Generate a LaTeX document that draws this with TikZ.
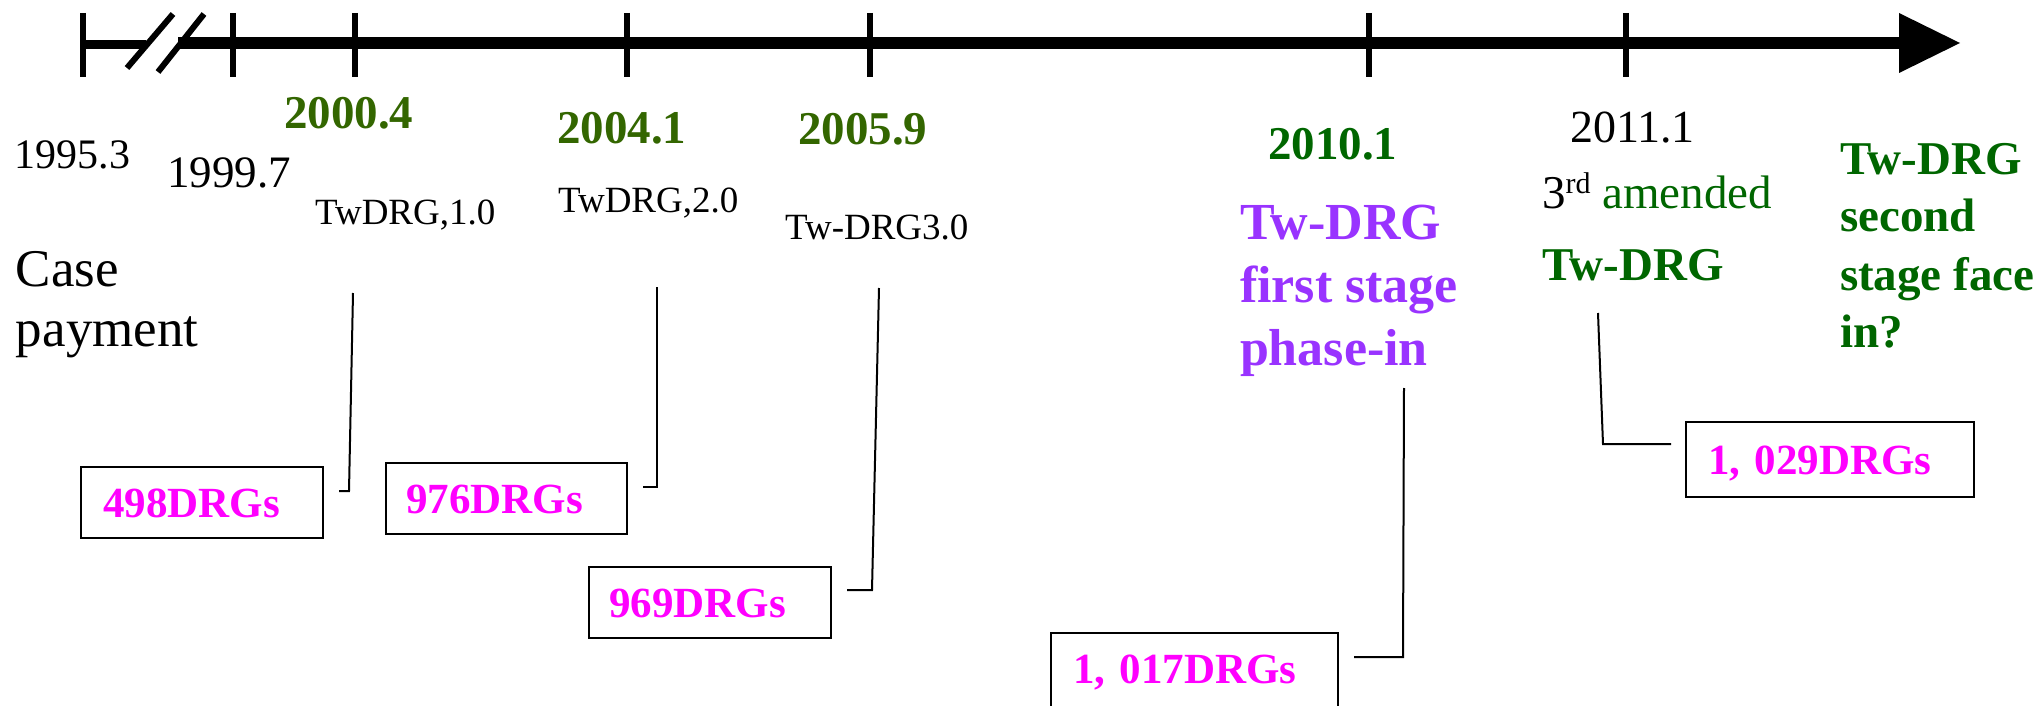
\documentclass[tikz,border=0pt]{standalone}
\usepackage{fontspec}
\setmainfont{Liberation Serif}
\usetikzlibrary{calc}
\definecolor{yrgreen}{HTML}{336600}
\definecolor{dkgreen}{HTML}{006600}
\definecolor{purp}{HTML}{9933FF}
\definecolor{mag}{HTML}{FF00FF}
\newcommand\fsz[1]{\fontsize{#1}{#1}\selectfont}
\tikzset{
  lbl/.style={anchor=base west, inner sep=0pt, outer sep=0pt},
  year/.style={lbl, font=\fsz{23.5pt}\bfseries, text=yrgreen},
  ver/.style={lbl, font=\fsz{18.5pt}},
  purptxt/.style={lbl, font=\fsz{26pt}\bfseries, text=purp},
  greentxt/.style={lbl, font=\fsz{23.5pt}\bfseries, text=dkgreen},
  dbox/.style={draw, line width=1.2pt, anchor=north west, outer sep=0pt,
    inner ysep=0pt, align=left, text height=15pt, text depth=0pt,
    font=\fsz{21.5pt}\bfseries, text=mag},
  conn/.style={line width=1pt},
  tick/.style={line width=3pt},
}
\begin{document}
\begin{tikzpicture}[x=0.5pt,y=-0.5pt]
\useasboundingbox (0,0) rectangle (2042,706);
\clip (0,0) rectangle (2042,706);

% axis
\draw[line width=4.75pt] (83,44.5) -- (146,44.5);
\draw[tick] (83,13) -- (83,77);
\draw[tick] (127,68) -- (173,14);
\draw[tick] (158,72) -- (204,14);
\draw[line width=6pt] (178,43) -- (1902,43);
\fill (1899,13) -- (1960,43) -- (1899,73) -- cycle;
\foreach \x in {233,355,627,870,1369,1626}
  \draw[tick] (\x,13) -- (\x,77);

% dates
\node[lbl, font=\fsz{21pt}] (d1) at (15,169) {1995.3};
\node[lbl, font=\fsz{22.5pt}] (d2) at (167,188) {1999.7};
\node[year] (d3) at (284,129) {2000.4};
\node[year] (d4) at (557,144) {2004.1};
\node[year] (d5) at (798,145) {2005.9};
\node[year, text=dkgreen] (d6) at (1268,160) {2010.1};
\node[lbl, font=\fsz{23pt}] (d7) at (1570,143) {2011.1};

% versions
\node[ver] (v1) at (315,225) {TwDRG,1.0};
\node[ver] (v2) at (558,213) {TwDRG,2.0};
\node[ver] (v3) at (785,240) {Tw-DRG3.0};

% case payment
\node[lbl, font=\fsz{26.5pt}] (cp1) at (16,286) {Case};
\node[lbl, font=\fsz{26.5pt}] (cp2) at (16,346) {payment};

% first stage
\node[purptxt] (p1) at (1240,240) {Tw-DRG};
\node[purptxt] (p2) at (1240,302.5) {first stage};
\node[purptxt] (p3) at (1240,365) {phase-in};

% 3rd amended
\node[lbl, font=\fsz{23.5pt}] (a1) at (1542,208)
  {3\raisebox{7.5pt}{\fsz{15pt}rd} \textcolor{dkgreen}{amended}};
\node[greentxt] (a2) at (1542,280) {Tw-DRG};

% second stage
\node[greentxt] (s1) at (1840,175) {Tw-DRG};
\node[greentxt] (s2) at (1840,232) {second};
\node[greentxt] (s3) at (1840,290) {stage face};
\node[greentxt] (s4) at (1840,347) {in?};

% boxes
\node[dbox, inner xsep=11pt, text width=99pt, minimum height=35.5pt] (b1) at (81,467) {498DRGs};
\node[dbox, inner xsep=10pt, text width=100.5pt, minimum height=35.5pt] (b2) at (386,463) {976DRGs};
\node[dbox, inner xsep=10pt, text width=101pt, minimum height=35.5pt] (b3) at (589,567) {969DRGs};
\node[dbox, inner xsep=11pt, text width=121.5pt, minimum height=39pt, text depth=4pt] (b4) at (1051,633) {1, 017DRGs};
\node[dbox, inner xsep=11pt, text width=122pt, minimum height=37.5pt] (b5) at (1686,422) {1, 029DRGs};

% connectors
\coordinate (t1) at (353,293);
\coordinate (t2) at (657,287);
\coordinate (t3) at (879,288);
\coordinate (t4) at (1404,388);
\coordinate (t5) at (1598,313);
\coordinate (f1) at ($(b1.east)+(16,-11.5)$);
\coordinate (f2) at ($(b2.east)+(16,-11.5)$);
\coordinate (f3) at ($(b3.east)+(16,-12.5)$);
\coordinate (f4) at ($(b4.east)+(16,-15)$);
\coordinate (f5) at ($(b5.west)+(-15,-15.5)$);
\draw[conn] (t1) -- ($(f1)+(10,0)$) -- (f1);
\draw[conn] (t2) -- ($(f2)+(14,0)$) -- (f2);
\draw[conn] (t3) -- ($(f3)+(25,0)$) -- (f3);
\draw[conn] (t4) -- ($(f4)+(49,0)$) -- (f4);
\draw[conn] (t5) -- ($(f5)+(-68,0)$) -- (f5);
\end{tikzpicture}
\end{document}
